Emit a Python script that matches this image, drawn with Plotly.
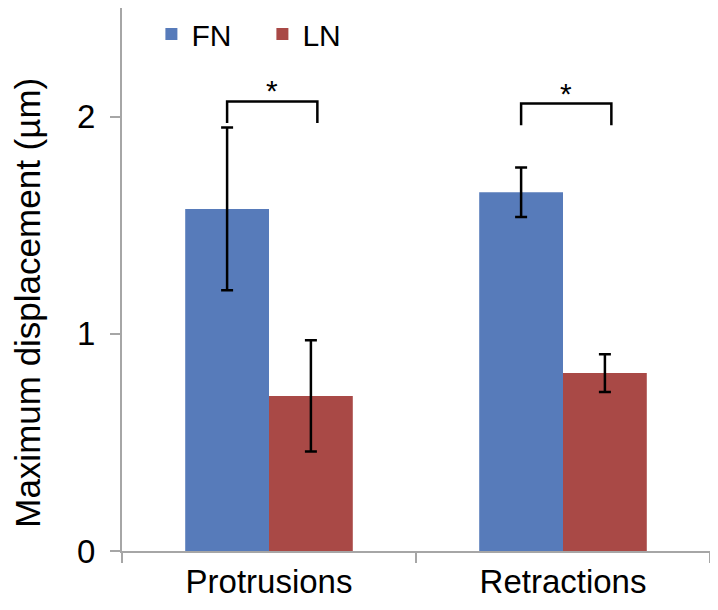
import plotly.graph_objects as go

categories = ["Protrusions", "Retractions"]
series_names = ["FN", "LN"]
fn_values = [1.575, 1.652]
fn_errors = [0.375, 0.114]
ln_values = [0.714, 0.819]
ln_errors = [0.256, 0.087]
sig_levels = [2.07, 2.06]
sig_labels = ["*", "*"]
y_ticks = [0, 1, 2]
y_title = "Maximum displacement (µm)"

colors = ["#577BBA", "#A94946"]
axis_gray = "#A6A6A6"
font_family = "Liberation Sans, Arial, sans-serif"
bargap = 0.43

fig = go.Figure()
for name, vals, errs, col in zip(series_names, [fn_values, ln_values], [fn_errors, ln_errors], colors):
    fig.add_trace(go.Bar(
        x=categories, y=vals, name=name,
        marker=dict(color=col, line=dict(width=0)),
        error_y=dict(type="data", array=errs, visible=True, color="black", thickness=2.5, width=6),
    ))

half = (1 - bargap) / 4  # offset of each bar centre from category centre
drop = 0.1
for i, (lvl, lab) in enumerate(zip(sig_levels, sig_labels)):
    x0 = i - half
    x1 = i + half + 0.022
    fig.add_trace(go.Scatter(
        x=[x0, x0, x1, x1], y=[lvl - drop, lvl, lvl, lvl - drop],
        mode="lines", line=dict(color="black", width=2.5),
        showlegend=False, hoverinfo="skip", xaxis="x2",
    ))
    fig.add_annotation(x=(x0 + x1) / 2, y=lvl, xref="x2", yref="y", text=lab,
                       showarrow=False, yanchor="bottom", yshift=-8,
                       font=dict(size=30, color="black", family=font_family))

# y-axis title (placed as rotated text, slightly below the plot centre as in the original)
fig.add_annotation(text=y_title, xref="paper", yref="paper", x=-0.160, y=0.457,
                   xanchor="center", yanchor="middle", textangle=-90, showarrow=False,
                   font=dict(size=35, color="black", family=font_family))

# page body has an 8px margin, so the figure is made 8px smaller
fig.update_layout(
    width=710, height=602,
    margin=dict(l=114, r=8, t=0, b=59),
    paper_bgcolor="white", plot_bgcolor="white",
    font=dict(family=font_family, size=30, color="black"),
    barmode="group", bargap=bargap, bargroupgap=0,
    showlegend=True,
    legend=dict(orientation="h", x=0.05, y=1.0, xanchor="left", yanchor="top",
                font=dict(size=30), bgcolor="rgba(0,0,0,0)",
                entrywidth=66, entrywidthmode="pixels"),
    xaxis=dict(showline=True, linecolor=axis_gray, linewidth=2,
               ticks="outside", tickson="boundaries", ticklen=10,
               tickcolor=axis_gray, tickwidth=2, showgrid=False, zeroline=False,
               tickfont=dict(size=33)),
    xaxis2=dict(overlaying="x", range=[-0.5, 1.5], visible=False),
    yaxis=dict(range=[0, 2.5], tickvals=y_ticks, showline=True, linecolor=axis_gray,
               linewidth=2, ticks="outside", ticklen=10, tickcolor=axis_gray, tickwidth=2,
               showgrid=False, zeroline=False, tickfont=dict(size=33), ticklabelstandoff=8),
)

fig.write_html("out.html")
